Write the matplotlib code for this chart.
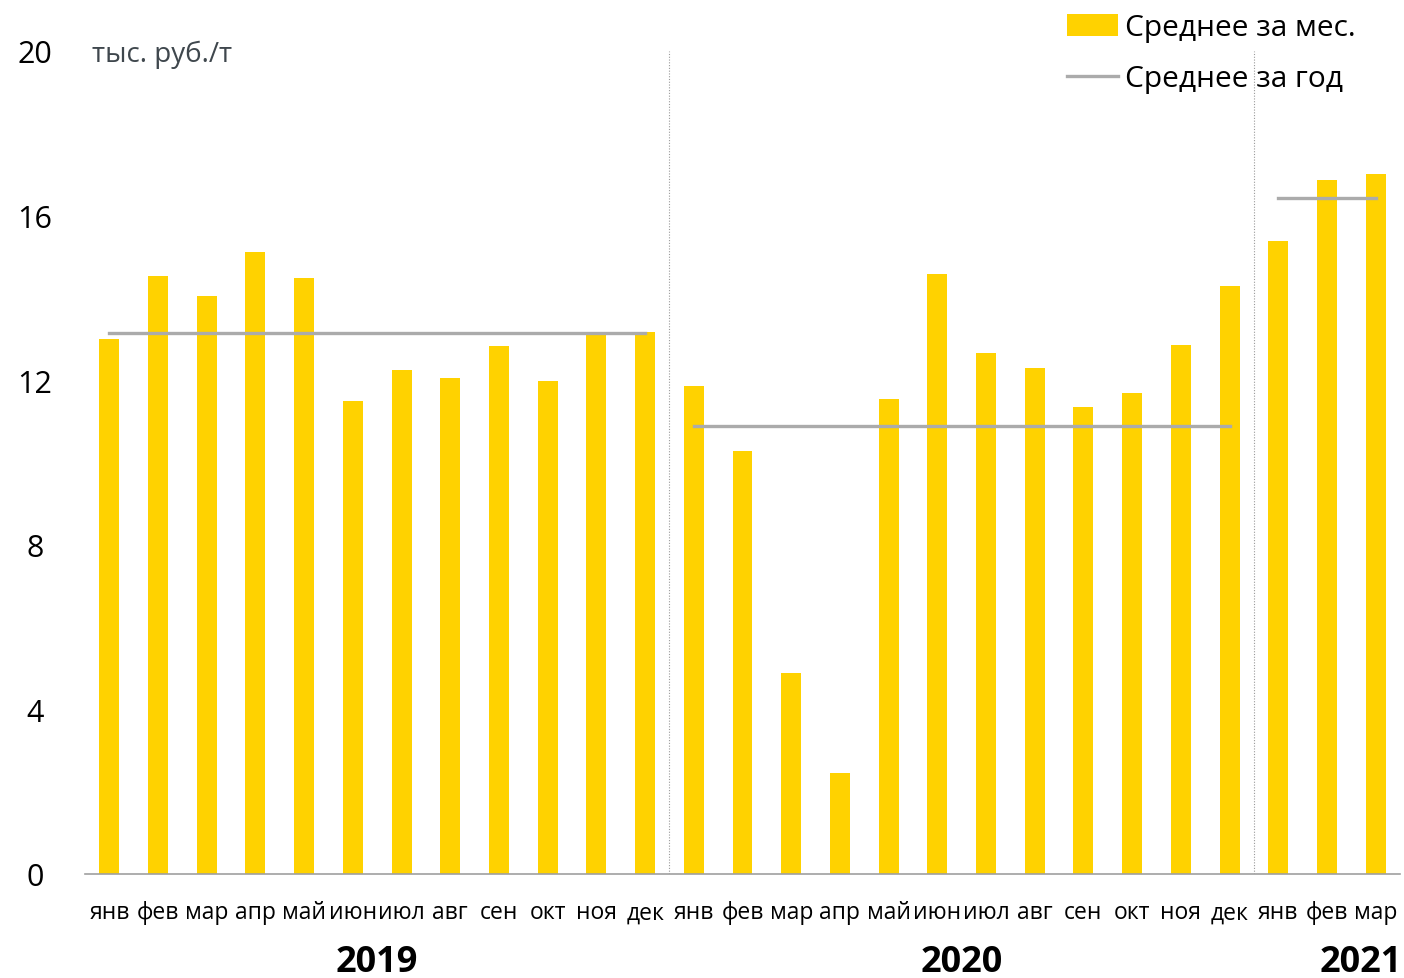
import matplotlib.pyplot as plt

plt.rcParams['font.family'] = ['Open Sans', 'DejaVu Sans']

months = ['янв', 'фев', 'мар', 'апр', 'май', 'июн', 'июл', 'авг', 'сен', 'окт', 'ноя', 'дек',
          'янв', 'фев', 'мар', 'апр', 'май', 'июн', 'июл', 'авг', 'сен', 'окт', 'ноя', 'дек',
          'янв', 'фев', 'мар']
monthly = [13.0, 14.53, 14.05, 15.12, 14.48, 11.49, 12.25, 12.05, 12.83, 11.98, 13.15, 13.17,
           11.86, 10.28, 4.88, 2.45, 11.54, 14.58, 12.66, 12.30, 11.35, 11.69, 12.86, 14.29,
           15.38, 16.87, 17.01]
years = ['2019', '2020', '2021']
year_avg = [13.15, 10.89, 16.43]
year_start = [0, 12, 24]
year_end = [11, 23, 26]

fig = plt.figure(figsize=(14.04, 9.79), dpi=100)
ax = fig.add_axes([85 / 1404, 1 - 875 / 979, 1315 / 1404, 823 / 979])

x = list(range(len(monthly)))
bars = ax.bar(x, monthly, width=0.41, color='#FFD200', zorder=2)
line = None
for i in range(len(years)):
    line, = ax.plot([year_start[i], year_end[i]], [year_avg[i], year_avg[i]],
                    color='#ABABAB', lw=2.4, zorder=3)

# year separators
for s in [11.5, 23.5]:
    ax.axvline(s, color='#9A9A9A', lw=0.8, ls=(0, (1, 1.5)), zorder=1)

ax.set_xlim(-0.5, 26.5)
ax.set_ylim(0, 20)
ax.set_yticks([0, 4, 8, 12, 16, 20])
ax.tick_params(axis='y', length=0, labelsize=22, pad=0)
for lab in ax.get_yticklabels():
    lab.set_horizontalalignment('center')
    lab.set_x(-50 / 1315)
ax.set_xticks(x)
ax.set_xticklabels(months)
ax.tick_params(axis='x', length=0, labelsize=16.5, pad=19)
for sp in ['left', 'right', 'top']:
    ax.spines[sp].set_visible(False)
ax.spines['bottom'].set_color('#A0A0A0')
ax.spines['bottom'].set_linewidth(1.2)

fig.text(92 / 1404, 1 - 55 / 979, 'тыс. руб./т', fontsize=20,
         color='#3F474D', va='center', ha='left')

# year captions under the month labels (2021 is pushed toward the right edge)
year_label_x = [5.5, 17.5, 25.7]
for i in range(len(years)):
    ax.text(year_label_x[i], -0.107, years[i], transform=ax.get_xaxis_transform(),
            ha='center', va='center', fontsize=26, fontweight='bold')

ax.legend([bars, line], ['Среднее за мес.', 'Среднее за год'], loc='upper left',
          bbox_to_anchor=(1067 / 1404, 1 - 14 / 979), bbox_transform=fig.transFigure,
          frameon=False, fontsize=21.5, handlelength=1.7, handleheight=0.75,
          labelspacing=0.75, handletextpad=0.25, borderaxespad=0.0, borderpad=0.0)

fig.savefig('out.png', dpi=100)
